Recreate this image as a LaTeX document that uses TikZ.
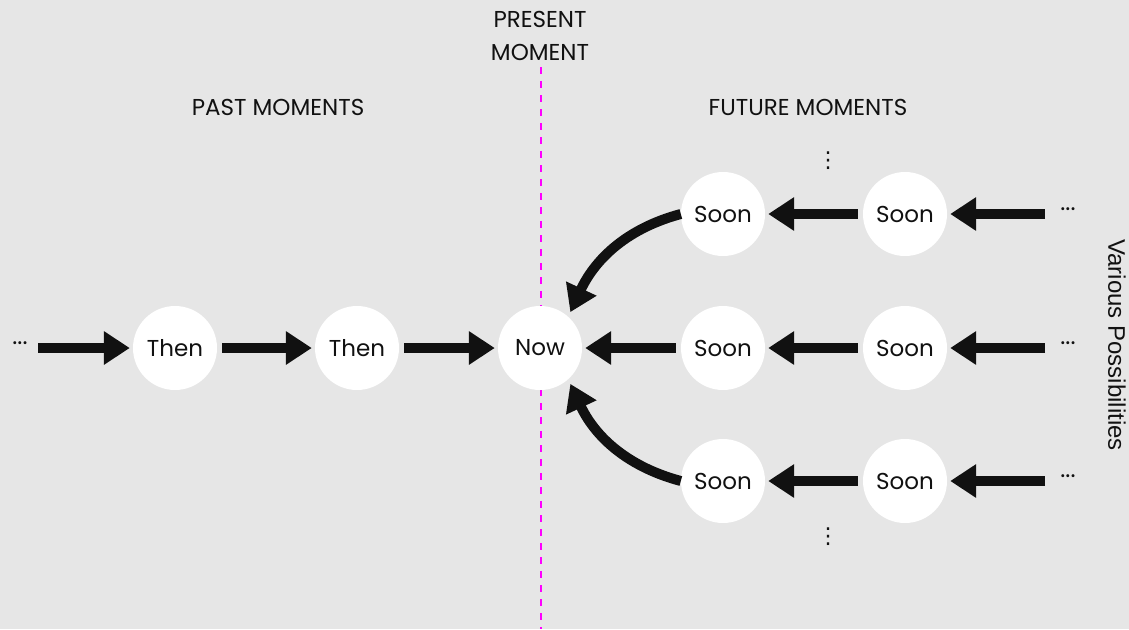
\documentclass[tikz,border=0pt]{standalone}
\usepackage{fontspec}
\setmainfont{Poppins}
\newfontfamily\sidefont{Liberation Sans}
\newfontfamily\symfont{DejaVu Sans}
\usetikzlibrary{arrows.meta}
\definecolor{bg}{HTML}{E6E6E6}
\definecolor{ink}{HTML}{111111}
\definecolor{present}{HTML}{FF00FF}
\begin{document}
\begin{tikzpicture}[x=1pt,y=-1pt,
  moment/.style={circle,fill=white,minimum size=84pt,inner sep=0pt,
    font=\fontsize{23}{26}\selectfont,text=ink},
  label/.style={font=\fontsize{23}{26}\selectfont,text=ink},
  dots/.style={font=\fontsize{24}{26}\selectfont,text=ink,inner sep=0pt},
  vdots/.style={font=\symfont\fontsize{22}{24}\selectfont,text=ink,inner sep=0pt},
  flow/.style={line width=10pt,ink,-{Triangle[length=26pt,width=32pt]},
    shorten <=5pt,shorten >=3pt}]
  % canvas
  \fill[bg] (0,0) rectangle (1129,629);
  \useasboundingbox (0,0) rectangle (1129,629);

  % the present moment
  \coordinate (ptop) at (541,67);
  \coordinate (pbot) at (541,629);
  \draw[present,line width=2pt,dash pattern=on 7pt off 7pt] (ptop) -- (pbot);

  % headings
  \node[label] (present1) at (540,19) {PRESENT};
  \node[label] (present2) at (540,52) {MOMENT};
  \node[label] (past) at (278,107) {PAST MOMENTS};
  \node[label] (future) at (808,107) {FUTURE MOMENTS};
  \node[rotate=-90,font=\sidefont\fontsize{24}{28}\selectfont,text=ink] (various) at (1117,345) {Various Possibilities};

  % moments
  \node[moment] (then1) at (175,348) {Then};
  \node[moment] (then2) at (357,348) {Then};
  \node[moment] (now) at (540,348) {Now};
  \node[moment] (soonA1) at (723,214) {Soon};
  \node[moment] (soonA2) at (905,214) {Soon};
  \node[moment] (soonB1) at (723,348) {Soon};
  \node[moment] (soonB2) at (905,348) {Soon};
  \node[moment] (soonC1) at (723,481) {Soon};
  \node[moment] (soonC2) at (905,481) {Soon};

  % continuation marks
  \node[dots] (pastdots) at (20,343) {...};
  \node[dots] (dotsA) at (1068,209) {...};
  \node[dots] (dotsB) at (1068,343) {...};
  \node[dots] (dotsC) at (1068,476) {...};
  \node[vdots] (vdotsTop) at (828,161) {⋮};
  \node[vdots] (vdotsBot) at (828,537) {⋮};

  % free ends of the outer flows
  \coordinate (pastin) at (38,348);
  \coordinate (futA) at (1045,214);
  \coordinate (futB) at (1045,348);
  \coordinate (futC) at (1045,481);

  % past flows into the present
  \draw[flow,shorten <=0pt] (pastin) -- (then1);
  \draw[flow] (then1) -- (then2);
  \draw[flow] (then2) -- (now);

  % possible futures flow into the present
  \draw[flow,shorten <=0pt] (futA) -- (soonA2);
  \draw[flow,shorten <=0pt] (futB) -- (soonB2);
  \draw[flow,shorten <=0pt] (futC) -- (soonC2);
  \draw[flow] (soonA2) -- (soonA1);
  \draw[flow] (soonB2) -- (soonB1);
  \draw[flow] (soonC2) -- (soonC1);
  \draw[flow] (soonB1) -- (now);
  \draw[flow,shorten <=0pt,shorten >=5pt] (soonA1.west) to[out=195,in=65] (now.48);
  \draw[flow,shorten <=0pt,shorten >=5pt] (soonC1.west) to[out=165,in=-65] (now.-48);
\end{tikzpicture}
\end{document}
